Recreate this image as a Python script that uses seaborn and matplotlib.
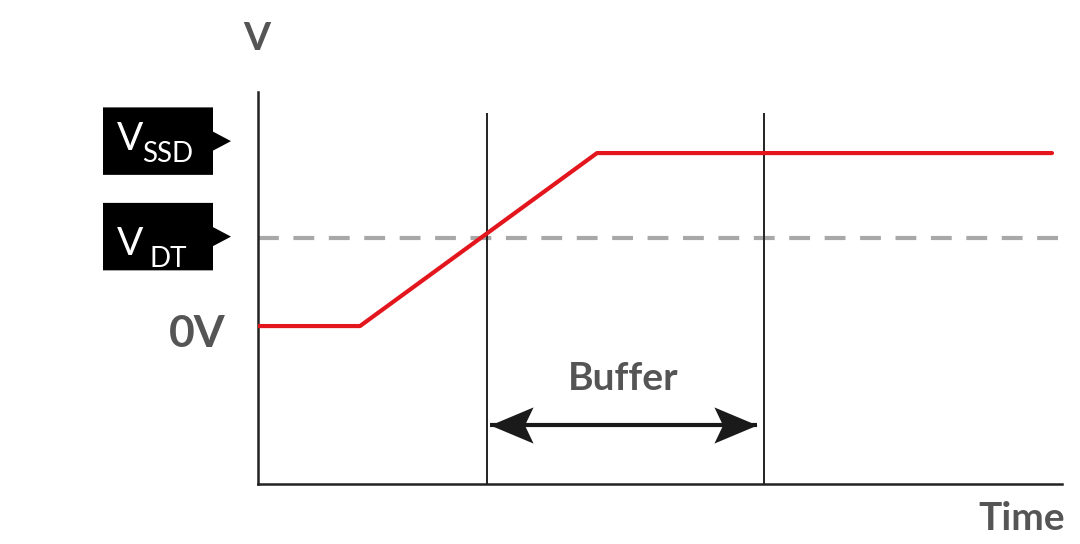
import matplotlib
matplotlib.use("Agg")
import matplotlib.pyplot as plt
import matplotlib.transforms as mtransforms
from matplotlib.patches import Polygon
from matplotlib.path import Path
import seaborn as sns
import pandas as pd

# ---- data ----
time = [0.0, 1.02, 3.39, 7.94]
voltage = [0.0, 0.0, 1.0, 1.0]
v_dt = 0.51
event_times = [2.29, 5.06]
buffer_span = [2.32, 4.99]
buffer_y = -0.572
label_names = [("V", "SSD"), ("V", "DT")]
label_y = [1.069, 0.517]

sns.set_style("white")
plt.rcParams['font.family'] = ['Lato', 'DejaVu Sans']

fig = plt.figure(figsize=(10.8, 5.44), dpi=100)
ax = fig.add_axes([258/1080, 60/544, 804/1080, 392/544])
ax.set_xlim(0, 8.04)
ax.set_ylim(-0.913, 1.353)

df = pd.DataFrame({"Time": time, "V": voltage})
sns.lineplot(data=df, x="Time", y="V", ax=ax, color="#e3161d", lw=3.0, zorder=4)
ax.axhline(v_dt, color="#a8a8a8", lw=3.0, dashes=(5, 3.5), zorder=2)
ax.vlines(event_times, -0.913, 1.231, color="#222222", lw=1.4, zorder=3)

for s in ["top", "right"]:
    ax.spines[s].set_visible(False)
for s in ["left", "bottom"]:
    ax.spines[s].set_color("#222222")
    ax.spines[s].set_linewidth(1.8)
ax.set_xticks([]); ax.set_yticks([])
ax.set_xlabel(""); ax.set_ylabel("")

gray = "#555555"
bt = mtransforms.blended_transform_factory(ax.transAxes, ax.transData)
ax.text((226-258)/804, -0.121, "0V", transform=bt,
        ha="right", va="baseline", fontsize=32, fontweight="bold", color=gray, clip_on=False)
ax.text(1.0037, -1.179, "Time", transform=bt,
        ha="right", va="baseline", fontsize=28, fontweight="bold", color=gray, clip_on=False)
ax.text(-0.001, 1.595, "V", transform=bt,
        ha="center", va="baseline", fontsize=28, fontweight="bold", color=gray, clip_on=False)
ax.text(sum(buffer_span) / 2, -0.37, "Buffer", ha="center", va="baseline",
        fontsize=28, fontweight="bold", color=gray)

# double-headed buffer arrow: shaft plus stealth-shaped heads
ax.plot(buffer_span, [buffer_y, buffer_y], color="#1a1a1a", lw=3.0, solid_capstyle="butt", zorder=5)
head_r = Path([(0, 0), (-1, 0.42), (-0.8, 0), (-1, -0.42), (0, 0)],
              [Path.MOVETO, Path.LINETO, Path.LINETO, Path.LINETO, Path.CLOSEPOLY])
head_l = Path([(0, 0), (1, 0.42), (0.8, 0), (1, -0.42), (0, 0)],
              [Path.MOVETO, Path.LINETO, Path.LINETO, Path.LINETO, Path.CLOSEPOLY])
ax.plot([buffer_span[0]], [buffer_y], marker=head_l, ms=62, color="#1a1a1a", mew=0, zorder=6)
ax.plot([buffer_span[1]], [buffer_y], marker=head_r, ms=62, color="#1a1a1a", mew=0, zorder=6)

# label boxes
x0, x1, xt = (103-258)/804, (213-258)/804, (231-258)/804
hh, th = 0.195, 0.055
sub_x = [(142-258)/804, (150-258)/804]
main_base = [(326-150)/173, (326-255)/173]
sub_base = [(326-162)/173, (326-267)/173]
for (main, sub), yc, sx, mb, sb in zip(label_names, label_y, sub_x, main_base, sub_base):
    poly = Polygon([(x0, yc - hh), (x1, yc - hh), (x1, yc - th), (xt, yc), (x1, yc + th),
                    (x1, yc + hh), (x0, yc + hh)], closed=True, transform=bt,
                   facecolor="black", edgecolor="none", clip_on=False)
    ax.add_patch(poly)
    ax.text((117-258)/804, mb, main, transform=bt, ha="left", va="baseline",
            fontsize=28, color="white", clip_on=False)
    ax.text(sx, sb, sub, transform=bt, ha="left", va="baseline",
            fontsize=20, color="white", clip_on=False)

fig.savefig("out.png", dpi=100)
